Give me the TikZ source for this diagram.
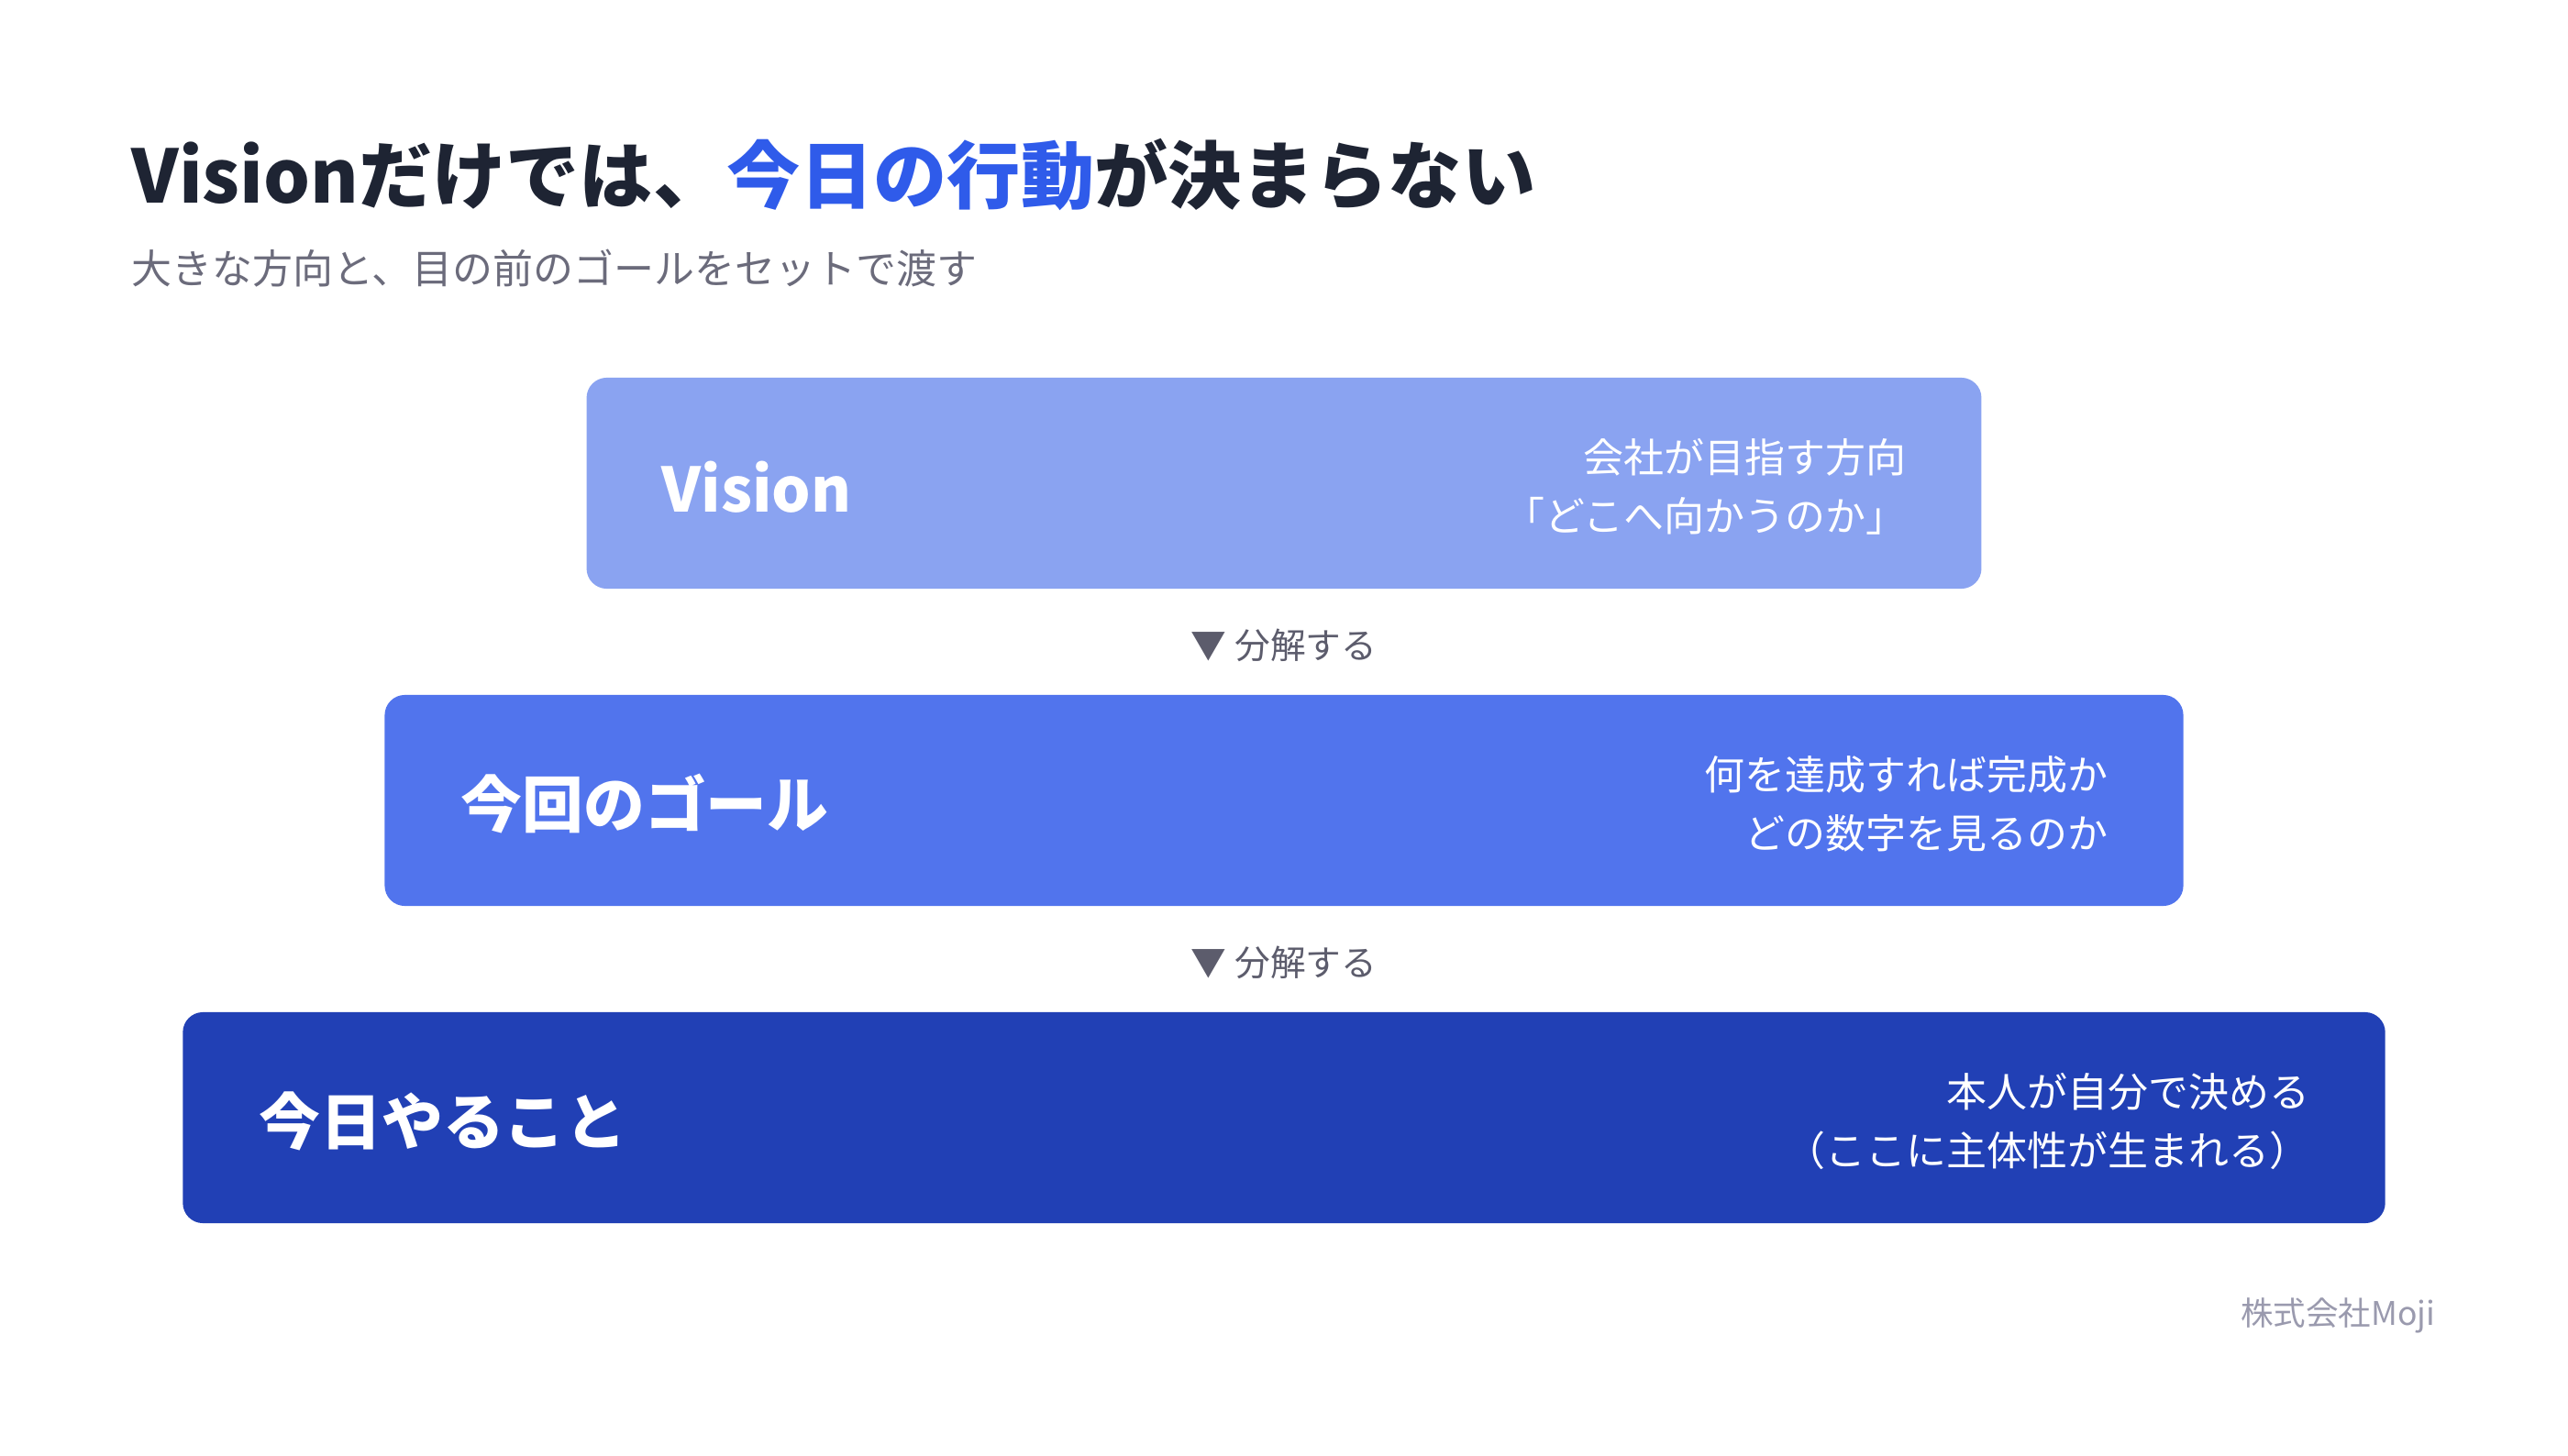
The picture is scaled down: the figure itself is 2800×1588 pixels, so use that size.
\documentclass[tikz,border=0pt]{standalone}
\usepackage{fontspec}
\setmainfont{Noto Sans CJK JP}
\usepackage{tikz}

\definecolor{titleink}{HTML}{1E2433}
\definecolor{accentblue}{HTML}{2F5BEA}
\definecolor{subgray}{HTML}{6B6B7B}
\definecolor{splitgray}{HTML}{5C5C6C}
\definecolor{footgray}{HTML}{9A9AAE}
\definecolor{visionblue}{HTML}{8AA3F1}
\definecolor{goalblue}{HTML}{5174ED}
\definecolor{todayblue}{HTML}{2140B5}

\tikzset{
  layer/.style={rounded corners=0.22cm, inner sep=0pt, minimum height=2.3cm},
  layertitle/.style={anchor=west, inner sep=0pt, text=white,
    font=\fontsize{19}{23}\selectfont\bfseries},
  layernote/.style={anchor=east, inner sep=0pt, align=right, text=white,
    font=\fontsize{12.5}{18.2}\selectfont},
  splitlabel/.style={inner sep=0pt, text=splitgray,
    font=\fontsize{11}{13}\selectfont},
}

\begin{document}
\begin{tikzpicture}[x=0.01cm, y=-0.01cm]
  \useasboundingbox[fill=white] (0,0) rectangle (2800,1588);

  % heading
  \node[anchor=west, inner sep=0pt, text=titleink, font=\fontsize{22.8}{27}\selectfont\bfseries]
    (title) at (143,191) {Visionだけでは、\textcolor{accentblue}{今日の行動}が決まらない};
  \node[anchor=west, inner sep=0pt, text=subgray, font=\fontsize{12.5}{15}\selectfont]
    (subtitle) at (143,293) {大きな方向と、目の前のゴールをセットで渡す};

  % three layers
  \node[layer, fill=visionblue, minimum width=15.2cm] (vision) at (1400,527) {};
  \node[layertitle] (visionlabel) at (721,531) {Vision};
  \node[layernote] (visionnote) at (2079,531) {会社が目指す方向\\「どこへ向かうのか」};

  \node[splitlabel] (split1) at (1400,704) {▼ 分解する};

  \node[layer, fill=goalblue, minimum width=19.6cm] (goal) at (1400,873) {};
  \node[layertitle] (goallabel) at (502,877) {今回のゴール};
  \node[layernote] (goalnote) at (2299,877) {何を達成すれば完成か\\どの数字を見るのか};

  \node[splitlabel] (split2) at (1400,1050) {▼ 分解する};

  \node[layer, fill=todayblue, minimum width=24cm] (today) at (1400,1219) {};
  \node[layertitle] (todaylabel) at (282,1223) {今日やること};
  \node[layernote] (todaynote) at (2519,1223) {本人が自分で決める\\（ここに主体性が生まれる）};

  % footer
  \node[anchor=east, inner sep=0pt, text=footgray, font=\fontsize{10.1}{12}\selectfont]
    (footer) at (2656,1435) {株式会社Moji};
\end{tikzpicture}
\end{document}
